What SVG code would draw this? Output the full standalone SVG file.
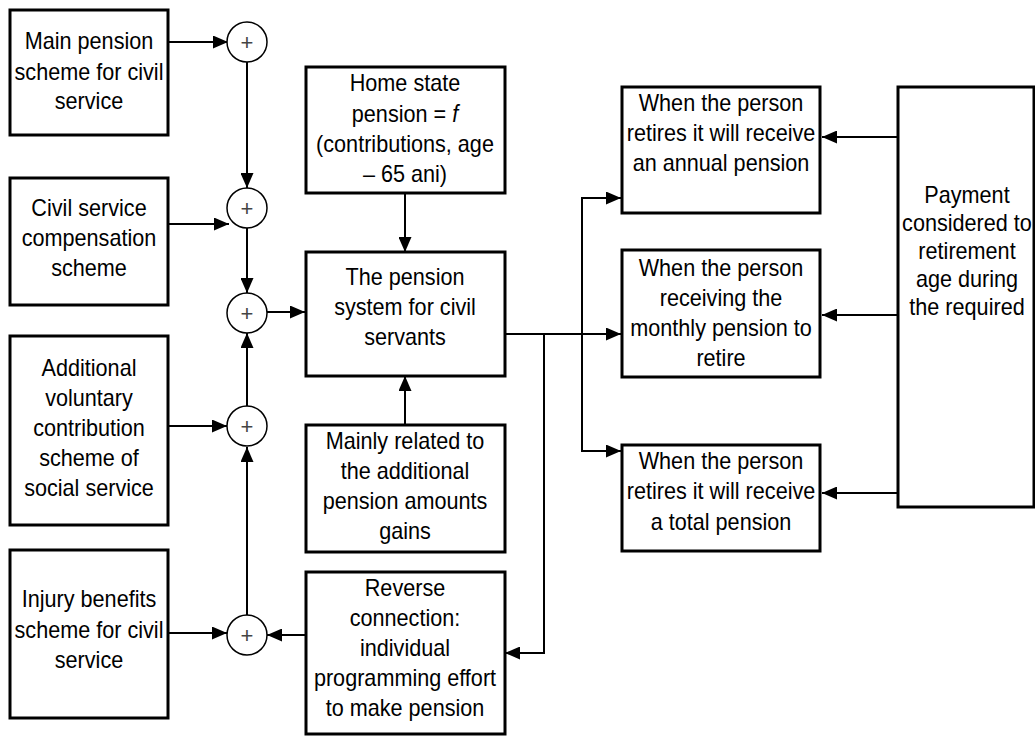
<svg xmlns="http://www.w3.org/2000/svg" width="1035" height="736" viewBox="0 0 1035 736">
<style>
.box{fill:#fff;stroke:#000;stroke-width:3}
.sum{fill:#fff;stroke:#000;stroke-width:1.5}
.t{font-family:"Liberation Sans",Arial,sans-serif;font-size:23px;fill:#000;text-anchor:middle}
.p{font-family:"Liberation Sans",Arial,sans-serif;font-size:22px;fill:#444;text-anchor:middle}
.c{fill:none;stroke:#000;stroke-width:2}
</style>
<defs>
<marker id="ah" markerUnits="userSpaceOnUse" markerWidth="15" markerHeight="13" refX="15" refY="6.5" orient="auto">
<path d="M0,0 L15,6.5 L0,13 z" fill="#000"/>
</marker>
</defs>
<rect width="1035" height="736" fill="#fff"/>
<g id="connectors">
<line class="c" x1="168" y1="42" x2="228" y2="42" marker-end="url(#ah)"/>
<line class="c" x1="247" y1="62" x2="247" y2="188" marker-end="url(#ah)"/>
<line class="c" x1="168" y1="224" x2="229" y2="224" marker-end="url(#ah)"/>
<line class="c" x1="247" y1="228" x2="247" y2="293" marker-end="url(#ah)"/>
<line class="c" x1="267" y1="312" x2="305" y2="312" marker-end="url(#ah)"/>
<line class="c" x1="168" y1="426" x2="227" y2="426" marker-end="url(#ah)"/>
<line class="c" x1="247" y1="406" x2="247" y2="333" marker-end="url(#ah)"/>
<line class="c" x1="247" y1="615" x2="247" y2="447" marker-end="url(#ah)"/>
<line class="c" x1="168" y1="633" x2="227" y2="633" marker-end="url(#ah)"/>
<line class="c" x1="306" y1="635" x2="267" y2="635" marker-end="url(#ah)"/>
<line class="c" x1="405" y1="193" x2="405" y2="252" marker-end="url(#ah)"/>
<line class="c" x1="405" y1="425" x2="405" y2="376" marker-end="url(#ah)"/>
<line class="c" x1="505" y1="334" x2="621" y2="334" marker-end="url(#ah)"/>
<polyline class="c" points="544,334 544,653 505,653" marker-end="url(#ah)"/>
<polyline class="c" points="621,198 582,198 582,451 621,451"/>
<line class="c" x1="582" y1="198" x2="621" y2="198" marker-end="url(#ah)"/>
<line class="c" x1="582" y1="451" x2="621" y2="451" marker-end="url(#ah)"/>
<line class="c" x1="903" y1="137" x2="822" y2="137" marker-end="url(#ah)"/>
<line class="c" x1="898" y1="315" x2="822" y2="315" marker-end="url(#ah)"/>
<line class="c" x1="898" y1="493" x2="822" y2="493" marker-end="url(#ah)"/>
</g>
<g id="main-pension">
<rect class="box" x="10" y="10" width="158" height="125"/>
<g transform="translate(89 0) scale(0.94 1)">
<text class="t" x="0" y="49">Main pension</text>
<text class="t" x="0" y="80">scheme for civil</text>
<text class="t" x="0" y="109">service</text>
</g>
</g>
<g id="compensation">
<rect class="box" x="10" y="178" width="158" height="127"/>
<g transform="translate(89 0) scale(0.94 1)">
<text class="t" x="0" y="216">Civil service</text>
<text class="t" x="0" y="246">compensation</text>
<text class="t" x="0" y="276">scheme</text>
</g>
</g>
<g id="voluntary">
<rect class="box" x="10" y="336" width="158" height="189"/>
<g transform="translate(89 0) scale(0.94 1)">
<text class="t" x="0" y="376">Additional</text>
<text class="t" x="0" y="406">voluntary</text>
<text class="t" x="0" y="436">contribution</text>
<text class="t" x="0" y="466">scheme of</text>
<text class="t" x="0" y="496">social service</text>
</g>
</g>
<g id="injury">
<rect class="box" x="10" y="550" width="158" height="168"/>
<g transform="translate(89 0) scale(0.94 1)">
<text class="t" x="0" y="607">Injury benefits</text>
<text class="t" x="0" y="638">scheme for civil</text>
<text class="t" x="0" y="668">service</text>
</g>
</g>
<g id="sum1"><circle class="sum" cx="247" cy="42" r="20"/><text class="p" x="247" y="50">+</text></g>
<g id="sum2"><circle class="sum" cx="247" cy="208" r="20"/><text class="p" x="247" y="216">+</text></g>
<g id="sum3"><circle class="sum" cx="247" cy="313" r="20"/><text class="p" x="247" y="321">+</text></g>
<g id="sum4"><circle class="sum" cx="247" cy="426" r="20"/><text class="p" x="247" y="434">+</text></g>
<g id="sum5"><circle class="sum" cx="247" cy="635" r="20"/><text class="p" x="247" y="643">+</text></g>
<g id="home-state">
<rect class="box" x="306" y="67" width="199" height="126"/>
<g transform="translate(405 0) scale(0.94 1)">
<text class="t" x="0" y="91">Home state</text>
<text class="t" x="0" y="122">pension = <tspan font-style="italic">f</tspan></text>
<text class="t" x="0" y="152">(contributions, age</text>
<text class="t" x="0" y="182">– 65 ani)</text>
</g>
</g>
<g id="pension-system">
<rect class="box" x="306" y="252" width="199" height="124"/>
<g transform="translate(405 0) scale(0.94 1)">
<text class="t" x="0" y="285">The pension</text>
<text class="t" x="0" y="315">system for civil</text>
<text class="t" x="0" y="345">servants</text>
</g>
</g>
<g id="mainly">
<rect class="box" x="306" y="425" width="199" height="127"/>
<g transform="translate(405 0) scale(0.94 1)">
<text class="t" x="0" y="449">Mainly related to</text>
<text class="t" x="0" y="479">the additional</text>
<text class="t" x="0" y="509">pension amounts</text>
<text class="t" x="0" y="539">gains</text>
</g>
</g>
<g id="reverse">
<rect class="box" x="306" y="572" width="199" height="162"/>
<g transform="translate(405 0) scale(0.94 1)">
<text class="t" x="0" y="596">Reverse</text>
<text class="t" x="0" y="626">connection:</text>
<text class="t" x="0" y="656">individual</text>
<text class="t" x="0" y="686">programming effort</text>
<text class="t" x="0" y="716">to make pension</text>
</g>
</g>
<g id="annual">
<rect class="box" x="622" y="87" width="198" height="126"/>
<g transform="translate(721 0) scale(0.94 1)">
<text class="t" x="0" y="111">When the person</text>
<text class="t" x="0" y="141">retires it will receive</text>
<text class="t" x="0" y="171">an annual pension</text>
</g>
</g>
<g id="monthly">
<rect class="box" x="622" y="250" width="198" height="127"/>
<g transform="translate(721 0) scale(0.94 1)">
<text class="t" x="0" y="276">When the person</text>
<text class="t" x="0" y="306">receiving the</text>
<text class="t" x="0" y="336">monthly pension to</text>
<text class="t" x="0" y="366">retire</text>
</g>
</g>
<g id="total">
<rect class="box" x="622" y="445" width="198" height="106"/>
<g transform="translate(721 0) scale(0.94 1)">
<text class="t" x="0" y="469">When the person</text>
<text class="t" x="0" y="499">retires it will receive</text>
<text class="t" x="0" y="530">a total pension</text>
</g>
</g>
<g id="payment">
<rect class="box" x="898" y="87" width="136" height="420"/>
<g transform="translate(967 0) scale(0.94 1)">
<text class="t" x="0" y="203">Payment</text>
<text class="t" x="0" y="231">considered to</text>
<text class="t" x="0" y="259">retirement</text>
<text class="t" x="0" y="287">age during</text>
<text class="t" x="0" y="315">the required</text>
</g>
</g>
</svg>
